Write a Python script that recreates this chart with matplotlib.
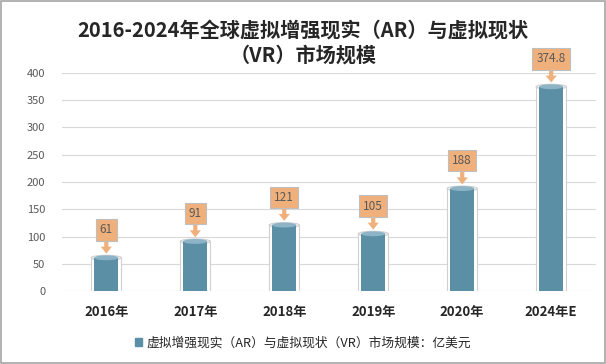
import matplotlib
matplotlib.use('Agg')
import matplotlib.pyplot as plt
import matplotlib.patches as mpatches

plt.rcParams['font.family'] = ['Noto Sans CJK SC', 'DejaVu Sans']

# ─── Data ─────────────────────────────────────────────────────────────────────
categories = ['2016年', '2017年', '2018年', '2019年', '2020年', '2024年E']
values     = [61, 91, 121, 105, 188, 374.8]
labels     = ['61', '91', '121', '105', '188', '374.8']
yticks     = [0, 50, 100, 150, 200, 250, 300, 350, 400]

BAR_COLOR = '#5B8FA6'
TOP_COLOR = '#8DB4C6'
BOX_COLOR = '#F0B07C'
GRID      = '#D9D9D9'
TICK      = '#595959'

fig = plt.figure(figsize=(6.06, 3.64), dpi=100)
ax = fig.add_axes([0.102, 0.2005, 0.881, 0.599])

x = list(range(len(categories)))
bw = 0.27
ow = 0.34
eh = 9  # ellipse height in data units

for xi, v in zip(x, values):
    # outer glass cylinder
    ax.add_patch(mpatches.Rectangle((xi - ow / 2, 0), ow, v, fc='white', ec='none', zorder=2))
    ax.plot([xi - ow / 2, xi - ow / 2], [0, v], color='#D0D0D0', lw=0.8, zorder=2)
    ax.plot([xi + ow / 2, xi + ow / 2], [0, v], color='#D0D0D0', lw=0.8, zorder=2)
    ax.add_patch(mpatches.Ellipse((xi, v), ow, eh, fc='#F2F2F2', ec='#D0D0D0', lw=0.8, zorder=2))
    # inner bar
    ax.bar(xi, v, width=bw, color=BAR_COLOR, zorder=3)
    ax.add_patch(mpatches.Ellipse((xi, 0), bw, eh, fc=BAR_COLOR, ec='none', zorder=3))
    ax.add_patch(mpatches.Ellipse((xi, v), bw, eh, fc=TOP_COLOR, ec='none', zorder=4))

for xi, v, lab in zip(x, values, labels):
    ax.annotate('', xy=(xi, v), xytext=(0, 13), textcoords='offset points',
                arrowprops=dict(arrowstyle='simple,head_width=0.8,head_length=0.5,tail_width=0.3',
                                fc=BOX_COLOR, ec='none', shrinkA=0, shrinkB=3), zorder=5)
    ax.annotate(lab, xy=(xi, v), xytext=(0, 20), textcoords='offset points',
                ha='center', va='center', fontsize=8.5, color=TICK, zorder=6,
                bbox=dict(boxstyle='square,pad=0.35', fc=BOX_COLOR, ec='#BFBFBF', lw=0.8))

ax.set_xlim(-0.5, len(categories) - 0.5)
ax.set_ylim(0, 400)
ax.set_yticks(yticks)
ax.set_xticks(x)
ax.set_xticklabels(categories, fontsize=9.5, fontweight='bold', color='#262626')
ax.tick_params(axis='y', length=0, labelsize=8, labelcolor=TICK, pad=12)
ax.tick_params(axis='x', length=0, pad=10)
ax.grid(axis='y', color=GRID, lw=0.8, zorder=0)
for s in ax.spines.values():
    s.set_visible(False)

fig.text(0.5, 0.883, '2016-2024年全球虚拟增强现实（AR）与虚拟现状\n（VR）市场规模',
         ha='center', va='center', fontsize=14.5, fontweight='bold', color='#262626',
         linespacing=1.2)

handle = mpatches.Patch(color=BAR_COLOR, label='虚拟增强现实（AR）与虚拟现状（VR）市场规模：亿美元')
fig.legend(handles=[handle], loc='center', bbox_to_anchor=(0.5, 0.058), frameon=False,
           fontsize=9.2, handlelength=0.55, handleheight=0.55, handletextpad=0.4,
           labelcolor='#262626')

fig.patches.append(mpatches.Rectangle((0.001, 0.002), 0.997, 0.996, transform=fig.transFigure,
                                      fill=False, ec='#A6A6A6', lw=1.2))

plt.savefig('out.png', dpi=100)
